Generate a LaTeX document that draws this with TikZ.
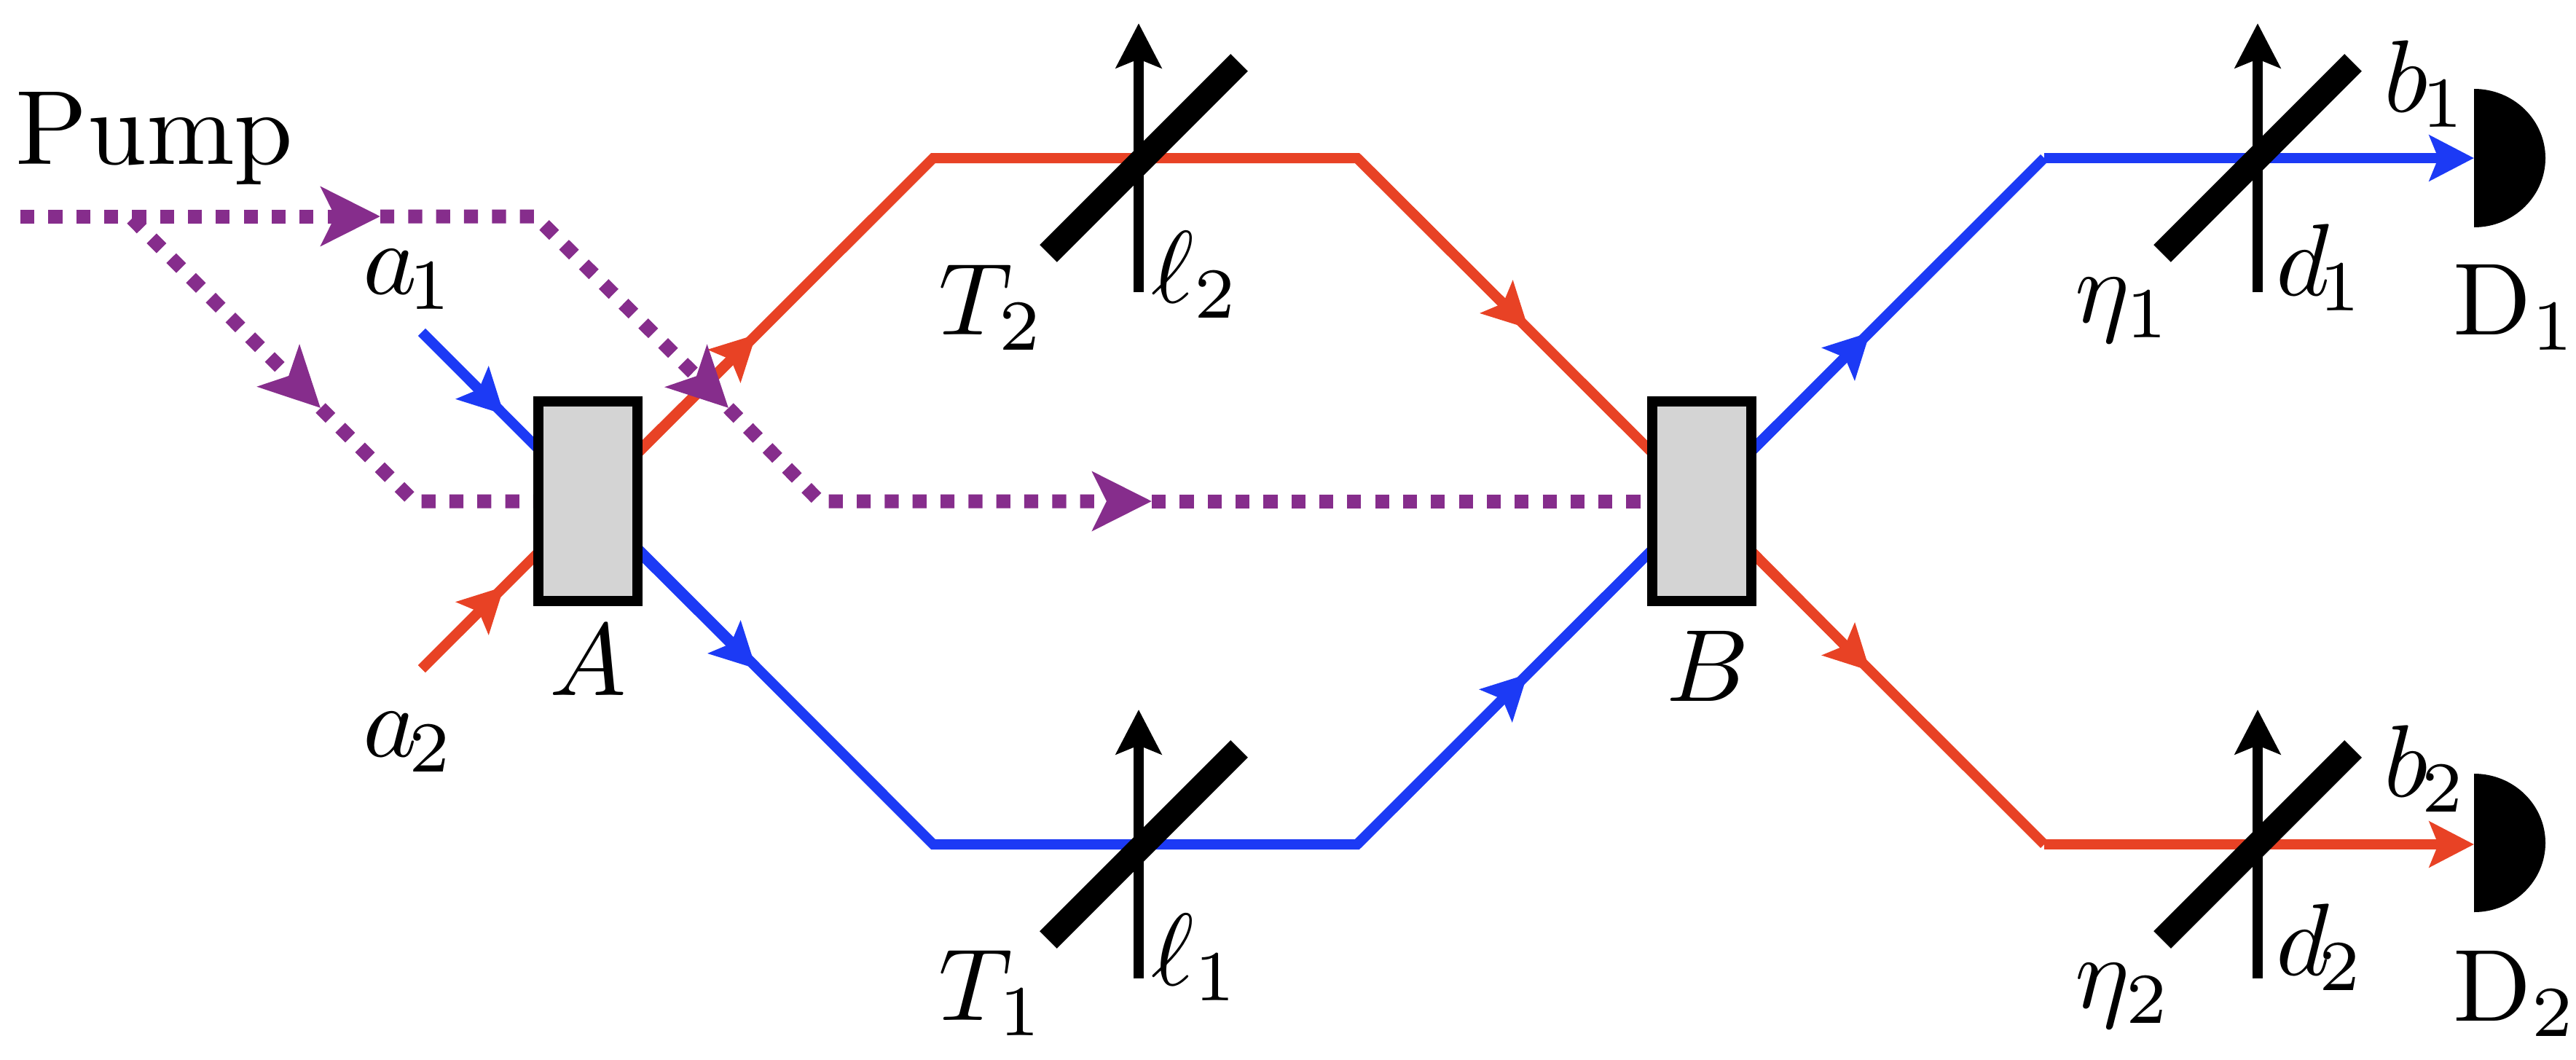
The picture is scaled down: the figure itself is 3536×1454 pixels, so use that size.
\documentclass[tikz,border=0pt]{standalone}
\usetikzlibrary{arrows.meta}
\definecolor{beamblue}{HTML}{1C3AF5}
\definecolor{beamred}{HTML}{E84225}
\definecolor{pumppurple}{HTML}{862D8C}
\definecolor{boxgray}{HTML}{D4D4D4}
\tikzset{
  x=0.01cm,y=-0.01cm,
  smalltip/.style={-{Stealth[length=0.61cm,width=0.62cm,inset=0.12cm]}},
  bigtip/.style={-{Stealth[length=0.81cm,width=0.80cm,inset=0.19cm]}},
  beam/.style={line width=0.14cm,line join=miter},
  bluebeam/.style={beam,draw=beamblue},
  redbeam/.style={beam,draw=beamred},
  pumpbeam/.style={draw=pumppurple,line width=0.19cm,dash pattern=on 0.192cm off 0.191cm},
  crystal/.style={draw=black,fill=boxgray,line width=0.14cm,minimum width=1.36cm,minimum height=2.73cm,inner sep=0pt},
  plate/.style={draw=black,line width=0.335cm},
  delay/.style={draw=black,line width=0.14cm},
  lab/.style={anchor=base west,inner sep=0pt,scale=4},
}
\begin{document}
\begin{tikzpicture}
\useasboundingbox (0,0) rectangle (3536,1454);
% junctions
\coordinate (a1s) at (579,456);
\coordinate (a2s) at (579,918);
\coordinate (a1t) at (692,569);
\coordinate (a2t) at (692,805);
\coordinate (rt1) at (1038,459);
\coordinate (bt1) at (1038,918);
\coordinate (rU) at (1281,217);
\coordinate (rV) at (1863,217);
\coordinate (bL) at (1281,1159);
\coordinate (bM) at (1863,1159);
\coordinate (rt2) at (2098,451);
\coordinate (bt2) at (2097,925);
\coordinate (bt3) at (2567,456);
\coordinate (rt3) at (2567,921);
\coordinate (bU) at (2806,217);
\coordinate (rL) at (2806,1159);
\coordinate (d1t) at (3396,217);
\coordinate (d2t) at (3396,1159);
\coordinate (p0) at (28,297);
\coordinate (pt1) at (522,297);
\coordinate (pk1) at (735,297);
\coordinate (pb) at (178,297);
\coordinate (pt2) at (440,560);
\coordinate (pk2) at (568,688);
\coordinate (pt3) at (1000,560);
\coordinate (pk3) at (1125,688);
\coordinate (pt4) at (1581,688);
% crystals
\node[crystal] (A) at (807,688) {};
\node[crystal] (B) at (2336,688) {};
% blue beam
\draw[bluebeam] (a1s) -- (bL) -- (bM) -- (bU);
\draw[bluebeam,smalltip] (bU) -- (d1t);
\draw[bluebeam,smalltip] (a1s) -- (a1t);
\draw[bluebeam,smalltip] (A.center) -- (bt1);
\draw[bluebeam,smalltip] (bM) -- (bt2);
\draw[bluebeam,smalltip] (B.center) -- (bt3);
% red beam
\draw[redbeam] (a2s) -- (rU) -- (rV) -- (rL);
\draw[redbeam,smalltip] (rL) -- (d2t);
\draw[redbeam,smalltip] (a2s) -- (a2t);
\draw[redbeam,smalltip] (A.center) -- (rt1);
\draw[redbeam,smalltip] (rV) -- (rt2);
\draw[redbeam,smalltip] (B.center) -- (rt3);
% delay lines and plates
\foreach \n/\vx/\px/\y in {l2/1563/1570/217,l1/1563/1570/1159,d1/3099/3099/217,d2/3099/3099/1159}{
  \coordinate (\n a) at (\px+131,\y-131);
  \coordinate (\n b) at (\px-131,\y+131);
  \coordinate (\n u) at (\vx,\y-185);
  \coordinate (\n v) at (\vx,\y+184);
  \draw[delay,smalltip] (\n v) -- (\n u);
  \draw[plate] (\n a) -- (\n b);
}
% pump
\draw[pumpbeam,bigtip] (p0) -- (pt1);
\draw[pumpbeam,bigtip] (pt1) -- (pk1) -- (pt3);
\draw[pumpbeam,bigtip] (pt3) -- (pk3) -- (pt4);
\draw[pumpbeam] (pt4) -- (B.west);
\draw[pumpbeam,bigtip,dash phase=0.34cm] (pb) -- (pt2);
\draw[pumpbeam] (pt2) -- (pk2) -- (A.west);
% crystals on top of the beams
\node[crystal] at (A.center) {};
\node[crystal] at (B.center) {};
% detectors
\fill (3396,122) arc[start angle=-90,end angle=90,x radius=98,y radius=95];
\fill (3396,1062) arc[start angle=-90,end angle=90,x radius=98,y radius=95];
% labels
\node[lab,scale=1.03] (pump) at (19,225) {Pump};
\node[lab] (la1) at (496,403) {$a_{\kern-.8pt1}$};
\node[lab] (la2) at (496,1038) {$a_{\kern-.8pt2}$};
\node[lab] (lA) at (752,954) {$A$};
\node[lab] (lB) at (2285,962) {$B$};
\node[lab] (lT2) at (1286,459) {$T_2$};
\node[lab] (lT1) at (1286,1400) {$T_1$};
\node[lab] (ll2) at (1578,415) {$\ell_2$};
\node[lab] (ll1) at (1578,1352) {$\ell_1$};
\node[lab] (le1) at (2846,442) {$\eta_1$};
\node[lab] (le2) at (2846,1383) {$\eta_2$};
\node[lab] (ld1) at (3122,405) {$d_{\kern-1pt1}$};
\node[lab] (ld2) at (3122,1338) {$d_{\kern-1pt2}$};
\node[lab] (lb1) at (3270,153) {$b_{\kern-.6pt1}$};
\node[lab] (lb2) at (3270,1093) {$b_{\kern-.6pt2}$};
\node[lab] (lD1) at (3365,459) {D$_1$};
\node[lab] (lD2) at (3365,1401) {D$_2$};
\end{tikzpicture}
\end{document}
